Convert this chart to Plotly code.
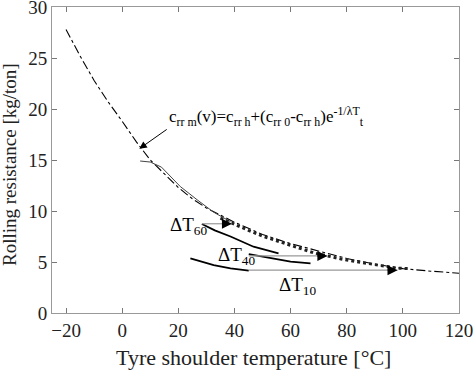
import plotly.graph_objects as go

# model curve (dash-dot)
model_x = [-20, -15, -10, -5, 0, 5, 10, 15, 20, 25, 30, 40, 50, 60, 70, 80, 90, 100, 110, 120]
model_y = [27.8, 25.2, 22.8, 20.7, 18.8, 16.8, 15.0, 13.6, 12.3, 11.2, 10.3, 8.9, 7.7, 6.8, 6.05, 5.35, 4.8, 4.35, 4.1, 3.9]

# measured steady curve (thin)
meas_x = [6.4, 10.0, 14.0, 17.1, 20.7, 26.7, 32.5, 38.6]
meas_y = [14.9, 14.8, 14.3, 13.4, 12.4, 11.1, 9.9, 8.95]

# thick dotted part
thick_x = [35, 38.6, 45, 50.4, 60, 68.2, 78, 86, 92, 98, 102.7]
thick_y = [9.3, 8.85, 8.1, 7.5, 6.6, 5.9, 5.3, 4.9, 4.65, 4.4, 4.35]

# transient curves
dt60_x = [28.4, 33.0, 38.6, 46.8, 55.7]
dt60_y = [8.72, 8.1, 7.5, 6.5, 5.85]
dt40_x = [45.1, 52.9, 60.0, 67.1]
dt40_y = [5.78, 5.35, 5.03, 4.87]
dt10_x = [24.3, 32.6, 38.6, 45.1]
dt10_y = [5.36, 4.7, 4.38, 4.15]

# horizontal shift arrows (start x, end x, y)
arrow_x0 = [28.4, 45.1, 45.1]
arrow_x1 = [39.1, 73.1, 98.1]
arrow_y = [8.75, 5.6, 4.2]

labels = ["ΔT<sub>60</sub>", "ΔT<sub>40</sub>", "ΔT<sub>10</sub>"]
label_x = [31.0, 48.2, 69.6]
label_y = [8.5, 5.6, 2.6]

formula = "c<sub>rr m</sub>(v)=c<sub>rr h</sub>+(c<sub>rr 0</sub>-c<sub>rr h</sub>)e<sup>-1/λT</sup><sub>t</sub>"
formula_x, formula_y = 16.0, 19.3
formula_arrow_tail = (16.4, 18.1)
formula_arrow_head = (6.1, 16.1)

x_ticks = [-20, 0, 20, 40, 60, 80, 100, 120]
y_ticks = [0, 5, 10, 15, 20, 25, 30]
x_title = "Tyre shoulder temperature [°C]"
y_title = "Rolling resistance [kg/ton]"

FONT = "Liberation Serif"

fig = go.Figure()
fig.add_trace(go.Scatter(x=model_x, y=model_y, mode="lines",
                         line=dict(color="black", width=1.1, dash="dashdot")))
fig.add_trace(go.Scatter(x=meas_x, y=meas_y, mode="lines",
                         line=dict(color="#444", width=1)))
fig.add_trace(go.Scatter(x=thick_x, y=thick_y, mode="lines",
                         line=dict(color="#222", width=3, dash="dot")))
for xs, ys in [(dt60_x, dt60_y), (dt40_x, dt40_y), (dt10_x, dt10_y)]:
    fig.add_trace(go.Scatter(x=xs, y=ys, mode="lines",
                             line=dict(color="black", width=1.8)))
for x0, x1, y in zip(arrow_x0, arrow_x1, arrow_y):
    fig.add_trace(go.Scatter(x=[x0, x1], y=[y, y], mode="lines",
                             line=dict(color="#999", width=1.2)))
    fig.add_annotation(x=x1, y=y, ax=x1 - 4, ay=y, xref="x", yref="y",
                       axref="x", ayref="y", showarrow=True, arrowhead=2,
                       arrowsize=1.25, arrowwidth=1.6, arrowcolor="black", text="")

for t, x, y in zip(labels, label_x, label_y):
    fig.add_annotation(x=x, y=y, text=t, showarrow=False, xanchor="right",
                       yanchor="middle", font=dict(family=FONT, size=19, color="black"))

fig.add_annotation(x=formula_x, y=formula_y, text=formula, showarrow=False,
                   xanchor="left", yanchor="middle",
                   font=dict(family=FONT, size=17, color="black"))
fig.add_annotation(x=formula_arrow_head[0], y=formula_arrow_head[1],
                   ax=formula_arrow_tail[0], ay=formula_arrow_tail[1],
                   xref="x", yref="y", axref="x", ayref="y", text="",
                   showarrow=True, arrowhead=2, arrowsize=1.5, arrowwidth=1,
                   arrowcolor="black")

# axis titles as annotations for exact placement
fig.add_annotation(x=0.496, y=-0.147, xref="paper", yref="paper", text=x_title,
                   showarrow=False, xanchor="center", yanchor="middle",
                   font=dict(family=FONT, size=22, color="#222"))
fig.add_annotation(x=-0.103, y=0.484, xref="paper", yref="paper", text=y_title,
                   showarrow=False, xanchor="center", yanchor="middle", textangle=-90,
                   font=dict(family=FONT, size=19, color="#222"))

axis_common = dict(showgrid=False, zeroline=False, ticks="inside", ticklen=5,
                   tickcolor="#777", showline=True, linecolor="#999", linewidth=1,
                   mirror="ticks", ticklabeloverflow="allow", automargin=False,
                   tickfont=dict(family=FONT, size=19, color="#222"))

fig.update_layout(
    width=474, height=373, showlegend=False,
    margin=dict(l=52, r=15, t=7, b=60, autoexpand=False),
    plot_bgcolor="white", paper_bgcolor="white",
    font=dict(family=FONT),
    xaxis=dict(range=[-25, 120], tickvals=x_ticks, **axis_common),
    yaxis=dict(range=[0, 30], tickvals=y_ticks, **axis_common),
)

fig.write_html("out.html", config={"displayModeBar": False},
               post_script="document.body.style.margin='0';document.body.style.overflow='hidden';")
